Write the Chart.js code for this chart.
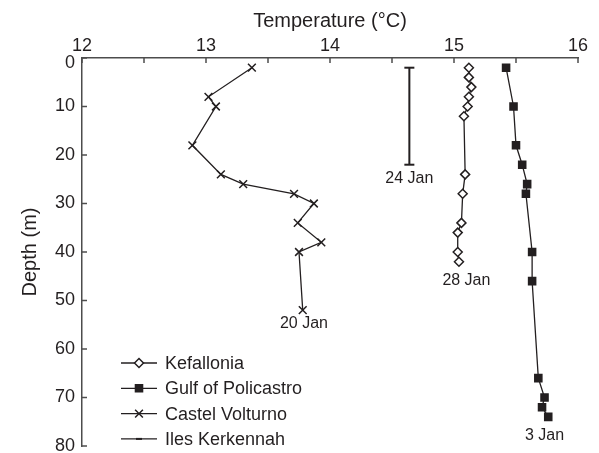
<!DOCTYPE html>
<html>
<head>
<meta charset="utf-8">
<script src="https://cdn.jsdelivr.net/npm/chart.js@4/dist/chart.umd.min.js"></script>
<style>
  body { margin: 0; background: #fff; }
  canvas { display: block; }
</style>
</head>
<body>
<canvas id="myChart" width="599" height="453"></canvas>
<script>
const ink = "#231f20";
const axisInk = "#4d4d4d";
const fontFamily = "'Liberation Sans', Arial, Helvetica, sans-serif";

// Kefallonia (28 Jan)
const kefDepth = [2, 4, 6, 8, 10, 12, 24, 28, 34, 36, 40, 42];
const kefTemp = [15.12, 15.12, 15.14, 15.12, 15.11, 15.08, 15.09, 15.07, 15.06, 15.03, 15.03, 15.04];

// Gulf of Policastro (3 Jan)
const polDepth = [2, 10, 18, 22, 26, 28, 40, 46, 66, 70, 72, 74];
const polTemp = [15.42, 15.48, 15.5, 15.55, 15.59, 15.58, 15.63, 15.63, 15.68, 15.73, 15.71, 15.76];

// Castel Volturno (20 Jan)
const casDepth = [2, 8, 10, 18, 24, 26, 28, 30, 34, 38, 40, 52];
const casTemp = [13.37, 13.02, 13.08, 12.89, 13.12, 13.3, 13.71, 13.87, 13.74, 13.93, 13.75, 13.78];

// Iles Kerkennah (24 Jan) - range only
const kerDepth = [2, 22];
const kerTemp = [14.64, 14.64];

const seriesNames = ["Kefallonia", "Gulf of Policastro", "Castel Volturno", "Iles Kerkennah"];

const dateLabels = ["20 Jan", "24 Jan", "28 Jan", "3 Jan"];
const dateLabelTemp = [13.79, 14.64, 15.1, 15.73];
const dateLabelDepth = [54.8, 24.8, 45.8, 77.8];

const xTicks = [12, 13, 14, 15, 16];
const yTicks = [0, 10, 20, 30, 40, 50, 60, 70, 80];

function toPoints(temps, depths) {
  return temps.map((t, i) => ({ x: t, y: depths[i] }));
}

function makeSet(label, temps, depths, style, radius, fill, width) {
  return {
    label: label,
    data: toPoints(temps, depths),
    showLine: true,
    borderColor: ink,
    borderWidth: width,
    pointStyle: style,
    pointRadius: radius,
    pointBorderColor: ink,
    pointBorderWidth: 1.5,
    pointBackgroundColor: fill,
  };
}

const datasets = [
  makeSet(seriesNames[0], kefTemp, kefDepth, "rectRot", 4.5, "#fff", 1.3),
  makeSet(seriesNames[1], polTemp, polDepth, "rect", 5, ink, 1.3),
  makeSet(seriesNames[2], casTemp, casDepth, "crossRot", 5.5, ink, 1.3),
  makeSet(seriesNames[3], kerTemp, kerDepth, "line", 5, ink, 2),
];
datasets[3].pointBorderWidth = 2;

const extrasPlugin = {
  id: "extras",
  afterDraw(chart) {
    const ctx = chart.ctx;
    const xs = chart.scales.x;
    const ys = chart.scales.y;
    const area = chart.chartArea;
    ctx.save();
    ctx.strokeStyle = axisInk;
    ctx.lineWidth = 1.5;
    // inward ticks on top axis (every 0.5)
    for (let v = 12; v <= 16.001; v += 0.5) {
      const px = xs.getPixelForValue(v);
      ctx.beginPath();
      ctx.moveTo(px, area.top);
      ctx.lineTo(px, area.top + 5);
      ctx.stroke();
    }
    // inward ticks on left axis
    yTicks.forEach((v) => {
      const py = ys.getPixelForValue(v);
      ctx.beginPath();
      ctx.moveTo(area.left, py);
      ctx.lineTo(area.left + 5, py);
      ctx.stroke();
    });
    // the "0" depth label sits a little low, clear of "12"
    ctx.fillStyle = ink;
    ctx.font = "18px " + fontFamily;
    ctx.textAlign = "right";
    ctx.textBaseline = "middle";
    ctx.fillText(String(yTicks[0]), area.left - 7, ys.getPixelForValue(yTicks[0]) + 5);
    // date labels
    ctx.font = "16px " + fontFamily;
    ctx.textAlign = "center";
    dateLabels.forEach((txt, i) => {
      ctx.fillText(txt, xs.getPixelForValue(dateLabelTemp[i]), ys.getPixelForValue(dateLabelDepth[i]));
    });
    // legend inside plot, bottom-left
    const x0 = area.left + 39;
    const x1 = area.left + 75;
    let rowY = area.bottom - 83;
    chart.data.datasets.forEach((ds) => {
      ctx.strokeStyle = ink;
      ctx.lineWidth = 1.3;
      ctx.beginPath();
      ctx.moveTo(x0, rowY);
      ctx.lineTo(x1, rowY);
      ctx.stroke();
      ctx.lineWidth = ds.pointBorderWidth;
      ctx.fillStyle = ds.pointBackgroundColor;
      Chart.helpers.drawPoint(ctx, {
        pointStyle: ds.pointStyle,
        radius: ds.pointStyle === "line" ? 3 : ds.pointRadius,
        rotation: 0,
        borderWidth: ds.pointBorderWidth,
      }, (x0 + x1) / 2, rowY);
      ctx.fillStyle = ink;
      ctx.textAlign = "left";
      ctx.font = "18px " + fontFamily;
      ctx.fillText(ds.label, x1 + 8, rowY + 1);
      rowY += 25.3;
    });
    ctx.restore();
  },
};

const config = {
  type: "scatter",
  data: { datasets: datasets },
  options: {
    responsive: false,
    animation: false,
    layout: { padding: { left: 0, top: 0, right: 21, bottom: 4 } },
    plugins: { legend: { display: false }, tooltip: { enabled: false } },
    scales: {
      x: {
        type: "linear",
        position: "top",
        min: 12,
        max: 16,
        afterBuildTicks: (scale) => {
          scale.ticks = xTicks.map((v) => ({ value: v }));
        },
        afterFit: (scale) => {
          scale.height = 58;
          scale.paddingLeft = 0;
          scale.paddingRight = 0;
        },
        ticks: {
          color: ink,
          padding: 1,
          maxRotation: 0,
          font: { family: fontFamily, size: 18 },
        },
        grid: { display: false, drawTicks: false },
        border: { display: true, color: axisInk, width: 1.5 },
        title: {
          display: true,
          text: "Temperature (°C)",
          color: ink,
          font: { family: fontFamily, size: 20 },
          padding: { top: 9, bottom: 0 },
        },
      },
      y: {
        type: "linear",
        reverse: true,
        min: 0,
        max: 80,
        afterBuildTicks: (scale) => {
          scale.ticks = yTicks.map((v) => ({ value: v }));
        },
        afterFit: (scale) => {
          scale.width = 82;
          scale.paddingTop = 0;
          scale.paddingBottom = 0;
        },
        ticks: {
          color: ink,
          padding: 7,
          font: { family: fontFamily, size: 18 },
          callback: (v) => (v === 0 ? "" : String(v)),
        },
        grid: { display: false, drawTicks: false },
        border: { display: true, color: axisInk, width: 1.5 },
        title: {
          display: true,
          text: "Depth (m)",
          color: ink,
          font: { family: fontFamily, size: 20 },
          padding: { top: 18, bottom: 0 },
        },
      },
    },
  },
  plugins: [extrasPlugin],
};

const chart = new Chart(document.getElementById("myChart"), config);
</script>
</body>
</html>
